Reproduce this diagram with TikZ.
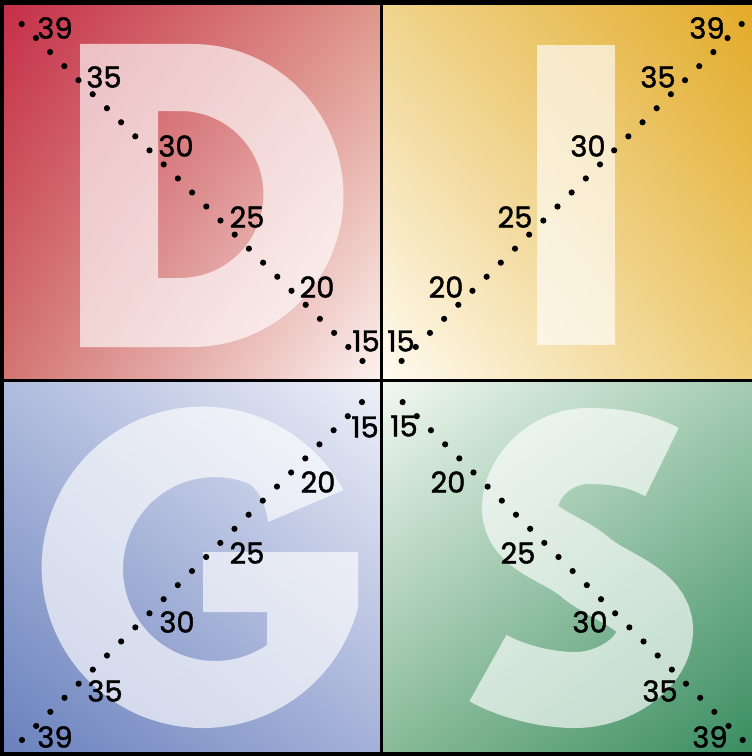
\documentclass[tikz,border=0pt]{standalone}
\usepackage{fontspec}
\setmainfont{Poppins}
\newfontfamily\lblfont{Poppins}[FakeBold=1.5]
\usetikzlibrary{shadings}
\tikzset{
  lbl/.style={font=\lblfont\fontsize{29}{30}\selectfont, inner sep=0pt, text=black},
  letter/.style={fill=white, fill opacity=0.65},
  sletter/.style={draw=white, draw opacity=0.65, line width=76bp, line cap=butt},
  divider/.style={line width=3bp, draw=black},
  dotmark/.style={fill=black},
}
\begin{document}
\begin{tikzpicture}[x=1bp,y=-1bp]
\useasboundingbox (0,0) rectangle (752,756);
% quadrant backgrounds
\shade[upper left={rgb,255:red,197;green,45;blue,71}, upper right={rgb,255:red,222;green,150;blue,138},
       lower left={rgb,255:red,210;green,116;blue,112}, lower right={rgb,255:red,252;green,242;blue,239}]
  (0,0) rectangle (381.7,380);
\shade[upper left={rgb,255:red,240;green,212;blue,140}, upper right={rgb,255:red,226;green,170;blue,40},
       lower left={rgb,255:red,255;green,251;blue,242}, lower right={rgb,255:red,238;green,206;blue,122}]
  (381.7,0) rectangle (752,380);
\shade[upper left={rgb,255:red,176;green,188;blue,222}, upper right={rgb,255:red,238;green,240;blue,248},
       lower left={rgb,255:red,104;green,128;blue,188}, lower right={rgb,255:red,164;green,176;blue,216}]
  (0,380) rectangle (381.7,756);
\shade[upper left={rgb,255:red,242;green,248;blue,242}, upper right={rgb,255:red,164;green,204;blue,178},
       lower left={rgb,255:red,136;green,186;blue,152}, lower right={rgb,255:red,56;green,140;blue,96}]
  (381.7,380) rectangle (752,756);
% letters
\fill[letter, even odd rule]
  (80,44) -- (192,44) arc[start angle=-90, end angle=90, radius=151.5] -- (80,347) -- cycle
  (158,111) -- (180,111) arc[start angle=-90, end angle=90, radius=83.5] -- (158,278) -- cycle;
\fill[letter] (537,45) rectangle (615,345);
\fill[letter]
  (202.4,567.3) ++(-28.7:160.7) arc[start angle=-28.7, end angle=-345.6, radius=160.7]
  -- (358,552) -- (203,552) -- (203,612) -- (267,612) -- (267,644.9)
  arc[start angle=55.6, end angle=290, radius=92]
  .. controls (258,487) and (266,505) .. (268,522) -- cycle;
\draw[sletter]
  (662,462) .. controls (644,453) and (625,446) .. (588,446)
  .. controls (550,446) and (520,478) .. (520,508)
  .. controls (520,540) and (562,547) .. (585,567)
  .. controls (608,587) and (655,598) .. (655,630)
  .. controls (655,662) and (615,690) .. (575,690)
  .. controls (540,690) and (505,678) .. (488,668);
% frame and dividers
\fill[black] (0,0) rectangle (752,5);
\fill[black] (0,0) rectangle (4,756);
\fill[black] (0,752) rectangle (752,756);
\draw[divider] (381.7,0) -- (381.7,756);
\draw[divider] (0,380) -- (752,380);
% dots
\foreach \i in {0,...,24} {
  \fill[dotmark] (21.7+14.2*\i, 24+14.04*\i) circle[radius=3.1];
  \fill[dotmark] (741.7-14.17*\i, 24+14.04*\i) circle[radius=3.1];
  \fill[dotmark] (22+14.165*\i, 740-14.08*\i) circle[radius=3.1];
  \fill[dotmark] (742.7-14.17*\i, 740-14.08*\i) circle[radius=3.1];
}
% labels
\node[lbl] (tl39) at (55,28) {39};
\node[lbl] (tl35) at (104,77) {35};
\node[lbl] (tl30) at (176,146) {30};
\node[lbl] (tl25) at (247,217) {25};
\node[lbl] (tl20) at (317,287) {20};
\node[lbl] (tl15) at (366,341) {15};
\node[lbl] (tr39) at (707,28) {39};
\node[lbl] (tr35) at (658,77) {35};
\node[lbl] (tr30) at (588,146) {30};
\node[lbl] (tr25) at (515,217) {25};
\node[lbl] (tr20) at (446,287) {20};
\node[lbl] (tr15) at (401,341) {15};
\node[lbl] (bl15) at (365,427) {15};
\node[lbl] (bl20) at (318,482) {20};
\node[lbl] (bl25) at (247,553) {25};
\node[lbl] (bl30) at (177,622) {30};
\node[lbl] (bl35) at (105,691) {35};
\node[lbl] (bl39) at (55,737) {39};
\node[lbl] (br15) at (404,426) {15};
\node[lbl] (br20) at (448,482) {20};
\node[lbl] (br25) at (518,553) {25};
\node[lbl] (br30) at (590,622) {30};
\node[lbl] (br35) at (660,691) {35};
\node[lbl] (br39) at (710,737) {39};
\end{tikzpicture}
\end{document}
